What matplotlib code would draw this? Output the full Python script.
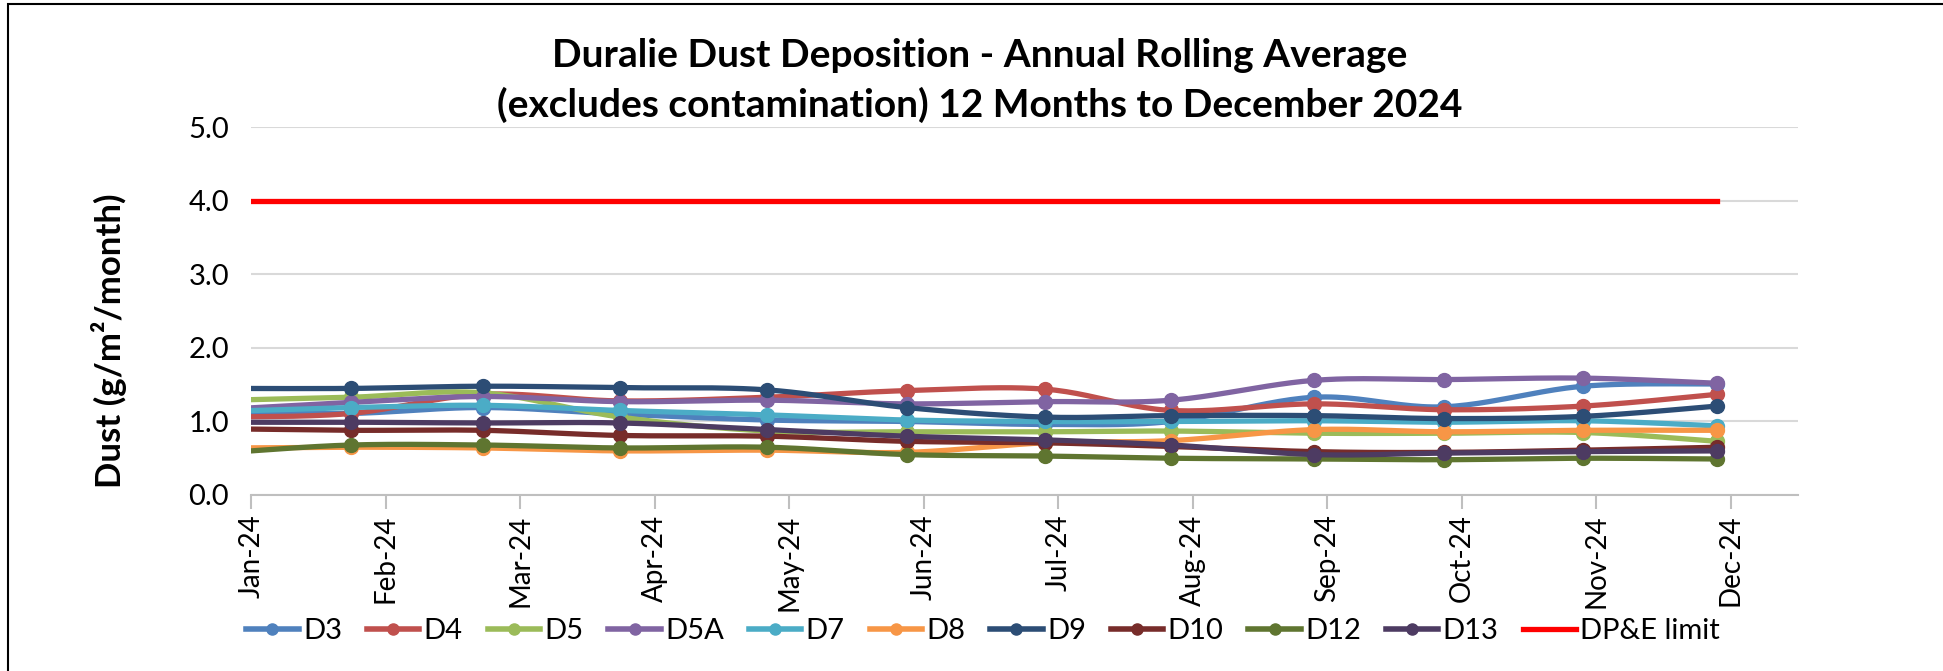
import calendar
import numpy as np
import matplotlib.pyplot as plt
from matplotlib.patches import Rectangle

plt.rcParams['font.family'] = ['Lato', 'DejaVu Sans']

# sample dates (first one is Dec-23, clipped at the axis start)
sample_dates = ['2023-12-27', '2024-01-24', '2024-02-22', '2024-03-24', '2024-04-26',
                '2024-05-28', '2024-06-28', '2024-07-27', '2024-08-29', '2024-09-27',
                '2024-10-29', '2024-11-28']

month_labels = ['Jan-24', 'Feb-24', 'Mar-24', 'Apr-24', 'May-24', 'Jun-24',
                'Jul-24', 'Aug-24', 'Sep-24', 'Oct-24', 'Nov-24', 'Dec-24']

d3 = [1.13, 1.11, 1.19, 1.10, 1.02, 1.00, 0.96, 1.00, 1.33, 1.20, 1.48, 1.51]
d4 = [1.06, 1.11, 1.37, 1.28, 1.33, 1.42, 1.44, 1.15, 1.24, 1.16, 1.21, 1.37]
d5 = [1.29, 1.33, 1.39, 1.06, 0.87, 0.86, 0.86, 0.87, 0.84, 0.84, 0.85, 0.73]
d5a = [1.17, 1.26, 1.34, 1.27, 1.29, 1.24, 1.27, 1.29, 1.56, 1.57, 1.59, 1.52]
d7 = [1.14, 1.19, 1.22, 1.15, 1.09, 1.02, 1.00, 1.00, 1.01, 0.99, 1.01, 0.94]
d8 = [0.64, 0.65, 0.64, 0.60, 0.61, 0.58, 0.71, 0.74, 0.89, 0.86, 0.88, 0.88]
d9 = [1.45, 1.45, 1.48, 1.46, 1.43, 1.19, 1.06, 1.08, 1.08, 1.04, 1.07, 1.21]
d10 = [0.90, 0.88, 0.88, 0.81, 0.80, 0.73, 0.71, 0.66, 0.59, 0.58, 0.61, 0.65]
d12 = [0.58, 0.68, 0.68, 0.64, 0.65, 0.55, 0.53, 0.50, 0.49, 0.48, 0.50, 0.49]
d13 = [0.99, 0.99, 0.98, 0.98, 0.89, 0.80, 0.75, 0.68, 0.55, 0.57, 0.59, 0.60]
limit = [4.0] * 12

series = [('D3', d3, '#4F81BD'), ('D4', d4, '#C0504D'), ('D5', d5, '#9BBB59'),
          ('D5A', d5a, '#8064A2'), ('D7', d7, '#4BACC6'), ('D8', d8, '#F79646'),
          ('D9', d9, '#2C4D75'), ('D10', d10, '#772C2A'), ('D12', d12, '#5F7530'),
          ('D13', d13, '#4D3B62')]


def month_pos(s):
    y, m, d = map(int, s.split('-'))
    return (y - 2024) * 12 + (m - 1) + (d - 1) / calendar.monthrange(y, m)[1]


def smooth(x, y, n=24):
    # catmull-rom, close to excel's smoothed line
    pts = np.column_stack([x, y])
    P = np.vstack([pts[0], pts, pts[-1]])
    out = []
    t = np.linspace(0, 1, n, endpoint=False)[:, None]
    for i in range(1, len(P) - 2):
        p0, p1, p2, p3 = P[i - 1], P[i], P[i + 1], P[i + 2]
        seg = 0.5 * (2 * p1 + (-p0 + p2) * t + (2 * p0 - 5 * p1 + 4 * p2 - p3) * t ** 2
                     + (-p0 + 3 * p1 - 3 * p2 + p3) * t ** 3)
        out.append(seg)
    out.append(pts[-1:])
    out = np.vstack(out)
    return out[:, 0], out[:, 1]


x = np.array([month_pos(s) for s in sample_dates])

fig = plt.figure(figsize=(19.43, 6.71), dpi=100)
ax = fig.add_axes([0.1294, 0.2623, 0.7960, 0.5477])

for name, vals, col in series:
    sx, sy = smooth(x, np.array(vals))
    ax.plot(sx, sy, color=col, lw=3.8, solid_capstyle='round', zorder=3)
    ax.plot(x, vals, 'o', color=col, ms=10, zorder=3)
    ax.plot([], [], '-o', color=col, lw=4, ms=8, label=name)

ax.plot(x, limit, color='#FF0000', lw=3.8, zorder=4, label='DP&E limit')

ax.set_xlim(0, 11.5)
ax.set_ylim(0, 5)
ax.set_yticks(np.arange(0, 5.1, 1.0))
ax.set_yticklabels(['%.1f' % v for v in np.arange(0, 5.1, 1.0)], fontsize=21)
ax.set_xticks(range(12))
ax.set_xticklabels(month_labels, rotation=90, fontsize=20)
ax.grid(axis='y', color='#D9D9D9', lw=1.5)
ax.set_axisbelow(True)
for s in ['top', 'right', 'left']:
    ax.spines[s].set_visible(False)
ax.spines['bottom'].set_color('#BFBFBF')
ax.spines['bottom'].set_linewidth(1.5)
ax.tick_params(axis='y', length=0, pad=16)
ax.tick_params(axis='x', direction='out', length=10, width=1.5, color='#BFBFBF', pad=4)

fig.text(0.056, 0.492, 'Dust (g/m²/month)', rotation=90, ha='center', va='center',
         fontsize=25, fontweight='bold')

fig.text(0.504, 0.918, 'Duralie Dust Deposition - Annual Rolling Average',
         ha='center', va='center', fontsize=28, fontweight='bold')
fig.text(0.504, 0.843, '(excludes contamination) 12 Months to December 2024',
         ha='center', va='center', fontsize=28, fontweight='bold')

fig.legend(loc='center', bbox_to_anchor=(0.506, 0.060), ncol=11, frameon=False,
           fontsize=21, handlelength=1.8, handletextpad=0.15, columnspacing=0.85)

fig.patches.append(Rectangle((8 / 1943, -0.05), 1.2, 1 - 4 / 671 + 0.05,
                             transform=fig.transFigure, fill=False,
                             edgecolor='black', lw=1.5))

fig.savefig('out.png', dpi=100)
